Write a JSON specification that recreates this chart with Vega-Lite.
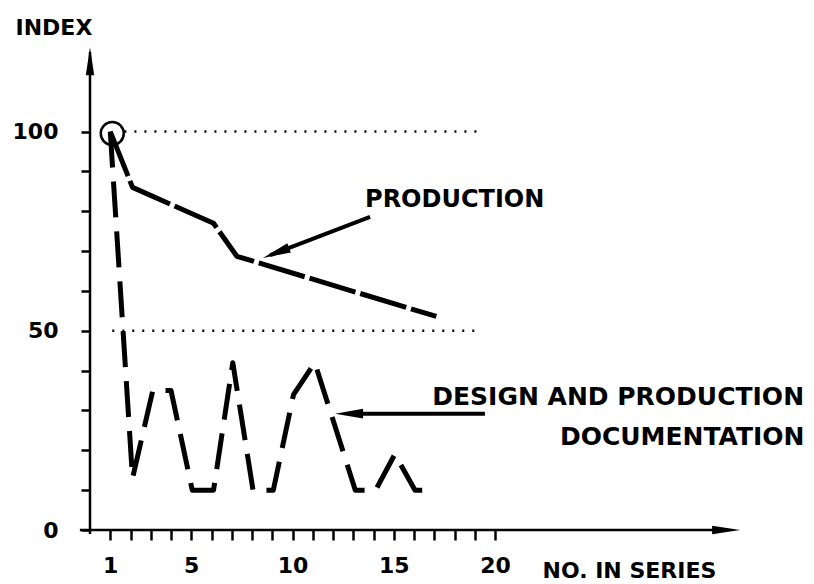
{
  "$schema": "https://vega.github.io/schema/vega-lite/v6.json",
  "width": 719,
  "height": 498,
  "autosize": {"type": "none"},
  "padding": {"left": 90, "top": 32, "right": 5, "bottom": 54},
  "background": "white",
  "config": {"view": {"stroke": null}},
  "datasets": {
    "production": [
      {"x": 1, "y": 100}, {"x": 2.1, "y": 86}, {"x": 6.1, "y": 77}, {"x": 7.25, "y": 68.7}, {"x": 17.1, "y": 53.6}
    ],
    "design": [
      {"x": 1, "y": 100}, {"x": 2.1, "y": 13}, {"x": 3.1, "y": 35}, {"x": 4, "y": 35}, {"x": 5.05, "y": 10},
      {"x": 6.1, "y": 10}, {"x": 7.05, "y": 42}, {"x": 8.05, "y": 10}, {"x": 9.05, "y": 10}, {"x": 10.05, "y": 34},
      {"x": 11.1, "y": 42}, {"x": 13.1, "y": 10}, {"x": 14.1, "y": 10}, {"x": 15.05, "y": 19}, {"x": 16.05, "y": 10},
      {"x": 17.05, "y": 10}
    ],
    "refs": [
      {"y": 100, "x": 1.7, "x2": 19.1},
      {"y": 50, "x": 1.1, "x2": 19.1}
    ],
    "one": [{}]
  },
  "layer": [
    {
      "data": {"name": "refs"},
      "mark": {"type": "rule", "color": "#000", "strokeWidth": 2.5, "strokeDash": [2, 8]},
      "encoding": {
        "x": {"field": "x", "type": "quantitative", "scale": {"domain": [0, 35.5], "nice": false, "zero": false},
          "axis": {
            "values": [1,2,3,4,5,6,7,8,9,10,11,12,13,14,15,16,17,18,19,20],
            "tickCount": 60, "format": "d",
            "labelExpr": "indexof([1,5,10,15,20], datum.value) >= 0 ? datum.label : ''",
            "domain": false, "grid": false, "tickSize": 10, "tickWidth": 2.5, "tickColor": "#000",
            "labelFont": "DejaVu Sans", "labelFontSize": 22, "labelFontWeight": "bold", "labelColor": "#000",
            "labelPadding": 15, "labelFlush": false, "labelOverlap": false, "labelBound": false,
            "title": "NO. IN SERIES", "titleX": 452, "titleY": 40, "titleAlign": "left", "titleBaseline": "middle",
            "titleAngle": 0, "titleFont": "DejaVu Sans", "titleFontSize": 22, "titleFontWeight": "bold", "titleColor": "#000"
          }},
        "x2": {"field": "x2"},
        "y": {"field": "y", "type": "quantitative", "scale": {"domain": [0, 125], "nice": false, "zero": false},
          "axis": {
            "values": [0,10,20,30,40,50,60,70,80,90,100],
            "tickCount": 60, "format": "d",
            "labelExpr": "indexof([0,50,100], datum.value) >= 0 ? datum.label : ''",
            "domain": false, "grid": false, "tickSize": 9, "tickWidth": 2.5, "tickColor": "#000",
            "labelFont": "DejaVu Sans", "labelFontSize": 22, "labelFontWeight": "bold", "labelColor": "#000",
            "labelPadding": 23, "labelFlush": false, "labelOverlap": false, "labelBound": false,
            "title": "INDEX", "titleX": -75, "titleY": -5, "titleAlign": "left", "titleBaseline": "middle",
            "titleAngle": 0, "titleFont": "DejaVu Sans", "titleFontSize": 22, "titleFontWeight": "bold", "titleColor": "#000"
          }}
      }
    },
    {
      "data": {"name": "production"},
      "mark": {"type": "line", "color": "#000", "strokeWidth": 5, "strokeDash": [48, 5], "strokeJoin": "round"},
      "encoding": {
        "x": {"field": "x", "type": "quantitative", "scale": {"domain": [0, 35.5], "nice": false, "zero": false}},
        "y": {"field": "y", "type": "quantitative", "scale": {"domain": [0, 125], "nice": false, "zero": false}}
      }
    },
    {
      "data": {"name": "design"},
      "mark": {"type": "line", "color": "#000", "strokeWidth": 5, "strokeDash": [36, 14], "strokeJoin": "round"},
      "encoding": {
        "x": {"field": "x", "type": "quantitative", "scale": {"domain": [0, 35.5], "nice": false, "zero": false}},
        "y": {"field": "y", "type": "quantitative", "scale": {"domain": [0, 125], "nice": false, "zero": false}}
      }
    },
    {
      "data": {"name": "one"},
      "mark": {"type": "point", "shape": "circle", "filled": false, "color": "#000", "strokeWidth": 2.5, "size": 529, "opacity": 1},
      "encoding": {"x": {"datum": 1.1}, "y": {"datum": 99.5}}
    },
    {
      "data": {"name": "one"},
      "mark": {"type": "rule", "color": "#000", "strokeWidth": 2.5},
      "encoding": {"x": {"datum": -0.5}, "x2": {"datum": 31.5}, "y": {"datum": 0}}
    },
    {
      "data": {"name": "one"},
      "mark": {"type": "rule", "color": "#000", "strokeWidth": 2.5},
      "encoding": {"x": {"datum": 0}, "y": {"datum": -1}, "y2": {"datum": 120}}
    },
    {
      "data": {"name": "one"},
      "mark": {"type": "point", "shape": "M0,0 L0.3,2 L-0.3,2 Z", "filled": true, "color": "#000", "size": 784, "angle": 0, "opacity": 1},
      "encoding": {"x": {"datum": 0}, "y": {"datum": 121.2}}
    },
    {
      "data": {"name": "one"},
      "mark": {"type": "point", "shape": "M0,0 L0.3,2 L-0.3,2 Z", "filled": true, "color": "#000", "size": 784, "angle": 90, "opacity": 1},
      "encoding": {"x": {"datum": 32.1}, "y": {"datum": 0}}
    },
    {
      "data": {"name": "one"},
      "mark": {"type": "rule", "color": "#000", "strokeWidth": 4},
      "encoding": {"x": {"datum": 13.83}, "y": {"datum": 78.6}, "x2": {"datum": 8.9}, "y2": {"datum": 69.0}}
    },
    {
      "data": {"name": "one"},
      "mark": {"type": "point", "shape": "M0,0 L0.35,2 L-0.35,2 Z", "filled": true, "color": "#000", "size": 784, "angle": 249, "opacity": 1},
      "encoding": {"x": {"datum": 8.54}, "y": {"datum": 68.3}}
    },
    {
      "data": {"name": "one"},
      "mark": {"type": "rule", "color": "#000", "strokeWidth": 4},
      "encoding": {"x": {"datum": 19.5}, "y": {"datum": 29.2}, "x2": {"datum": 12.8}, "y2": {"datum": 29.2}}
    },
    {
      "data": {"name": "one"},
      "mark": {"type": "point", "shape": "M0,0 L0.35,2 L-0.35,2 Z", "filled": true, "color": "#000", "size": 784, "angle": 270, "opacity": 1},
      "encoding": {"x": {"datum": 12.1}, "y": {"datum": 29.2}}
    },
    {
      "data": {"name": "one"},
      "mark": {"type": "text", "text": "PRODUCTION", "align": "left", "baseline": "middle", "font": "DejaVu Sans", "fontSize": 24, "fontWeight": "bold", "color": "#000"},
      "encoding": {"x": {"datum": 13.58}, "y": {"datum": 82.8}}
    },
    {
      "data": {"name": "one"},
      "mark": {"type": "text", "text": "DESIGN AND PRODUCTION", "align": "left", "baseline": "middle", "font": "DejaVu Sans", "fontSize": 25, "fontWeight": "bold", "color": "#000"},
      "encoding": {"x": {"datum": 16.9}, "y": {"datum": 33.4}}
    },
    {
      "data": {"name": "one"},
      "mark": {"type": "text", "text": "DOCUMENTATION", "align": "left", "baseline": "middle", "font": "DejaVu Sans", "fontSize": 25, "fontWeight": "bold", "color": "#000"},
      "encoding": {"x": {"datum": 23.2}, "y": {"datum": 23.3}}
    }
  ]
}
